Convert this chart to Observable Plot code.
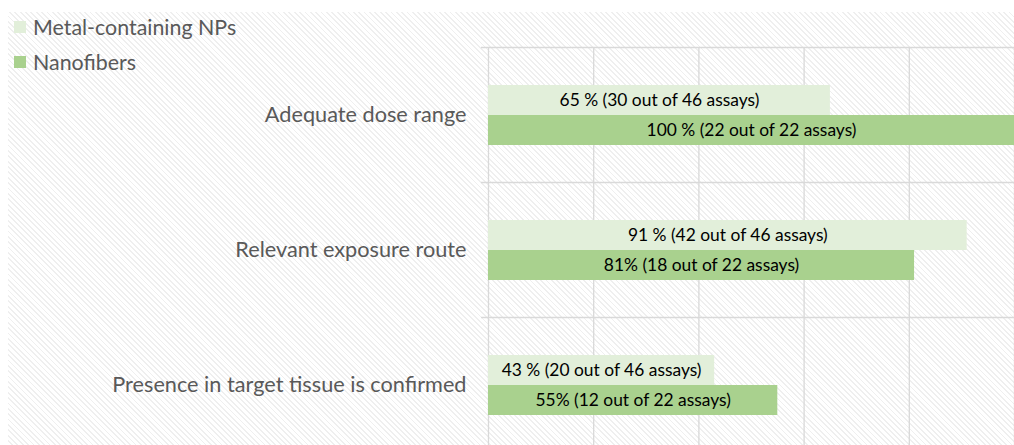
<!DOCTYPE html>
<html><head><meta charset="utf-8">
<script src="https://cdn.jsdelivr.net/npm/d3@7"></script>
<script src="https://cdn.jsdelivr.net/npm/@observablehq/plot@0.6"></script>
<style>
html,body{margin:0;padding:0;background:#fff;overflow:hidden;width:1014px;height:445px;}
#bg{position:absolute;left:8px;top:12px;width:1006px;height:433px;
  background:repeating-linear-gradient(45deg,#ffffff 0 2.5px,#efefef 2.5px 3.8px);}
#chart{position:absolute;left:0;top:0;}
#legend{position:absolute;left:14px;top:9px;font-family:Lato,sans-serif;font-size:21.4px;color:#595959;z-index:2;}
.item{display:flex;align-items:center;height:35px;}
.sw{width:12px;height:12px;margin-right:7px;}
</style></head>
<body>
<div id="bg"></div>
<div id="chart"></div>
<div id="legend"></div>
<script>
const categories = ["Adequate dose range", "Relevant exposure route", "Presence in target tissue is confirmed"];
const seriesNames = ["Metal-containing NPs", "Nanofibers"];
const seriesColors = ["#e2efda", "#a9d18e"];
const metalValues = [65, 91, 43];
const nanoValues = [100, 81, 55];
const metalLabels = ["65 % (30 out of 46 assays)", "91 % (42 out of 46 assays)", "43 % (20 out of 46 assays)"];
const nanoLabels = ["100 % (22 out of 22 assays)", "81% (18 out of 22 assays)", "55% (12 out of 22 assays)"];
const xTicks = [0, 20, 40, 60, 80, 100];

const metalData = categories.map((c, i) => ({category: c, value: metalValues[i], label: metalLabels[i]}));
const nanoData = categories.map((c, i) => ({category: c, value: nanoValues[i], label: nanoLabels[i]}));

const W = 1014, H = 445, mTop = 47, mBottom = -7;
const half = (H - mBottom - mTop) / categories.length / 2;
const grid = "#d9d9d9";
const font = "Lato, sans-serif";

const chart = Plot.plot({
  width: W, height: H,
  marginLeft: 488, marginRight: 0, marginTop: mTop, marginBottom: mBottom,
  style: {background: "transparent", fontFamily: font},
  x: {domain: [0, 100], axis: null},
  y: {domain: categories, padding: 0, axis: null},
  marks: [
    Plot.ruleX(xTicks, {x: d => d, stroke: grid, strokeWidth: 1.3}),
    Plot.ruleY(categories, {y: d => d, dy: -half, insetLeft: -7, stroke: grid, strokeWidth: 1.3}),
    Plot.barX(metalData, {y: "category", x: "value", fill: seriesColors[0], insetTop: 38, insetBottom: 67}),
    Plot.barX(nanoData, {y: "category", x: "value", fill: seriesColors[1], insetTop: 68, insetBottom: 37}),
    Plot.text(metalData, {y: "category", x: d => d.value / 2, text: "label", dy: -15, fontSize: 17.4, fill: "#000"}),
    Plot.text(nanoData, {y: "category", x: d => d.value / 2, text: "label", dy: 15, fontSize: 17.4, fill: "#000"}),
    Plot.text(categories, {y: d => d, x: 0, text: d => d, dx: -22, textAnchor: "end", fontSize: 21.7, fill: "#595959"})
  ]
});
document.getElementById("chart").appendChild(chart);

const leg = document.getElementById("legend");
seriesNames.forEach((s, i) => {
  const it = document.createElement("div");
  it.className = "item";
  const sw = document.createElement("span");
  sw.className = "sw"; sw.style.background = seriesColors[i];
  const t = document.createElement("span"); t.textContent = s;
  it.appendChild(sw); it.appendChild(t);
  leg.appendChild(it);
});
</script>
</body></html>
